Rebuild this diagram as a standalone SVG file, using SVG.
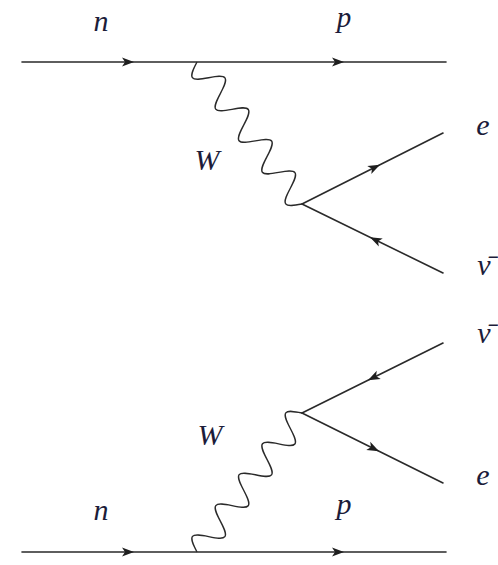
<svg xmlns="http://www.w3.org/2000/svg" xmlns:xlink="http://www.w3.org/1999/xlink" width="498" height="565" viewBox="0 0 498 565">
<style>
.f{stroke:#2a2a2a;stroke-width:1.6;fill:none;stroke-linecap:round}
.w{stroke:#2a2a2a;stroke-width:1.4;fill:none}
.ah{fill:#1e1e1e;stroke:none}
</style>
<defs>
<path id="wave" d="M0,0 C3.20,6.66 6.26,13 9.81,13 S16.42,6.66 19.62,0 S25.88,-13 29.43,-13 S36.04,-6.66 39.24,0 S45.50,13 49.05,13 S55.66,6.66 58.86,0 S65.12,-13 68.67,-13 S75.28,-6.66 78.48,0 S84.74,13 88.29,13 S94.90,6.66 98.10,0 S104.36,-13 107.91,-13 S114.52,-6.66 117.72,0 S123.98,13 127.53,13 S134.14,6.66 137.34,0 S143.60,-13 147.15,-13 S153.76,-6.66 156.96,0 S163.22,13 166.77,13 S173.38,6.66 176.58,0"/>
<path id="ah" d="M0,0 L-12,-4.5 L-9,0 L-12,4.5 Z"/>
</defs>
<g id="connectors">
<line class="f" x1="22" y1="62" x2="446" y2="62"/>
<line class="f" x1="302" y1="204" x2="443" y2="133"/>
<line class="f" x1="302" y1="204" x2="443" y2="273"/>
<use xlink:href="#wave" class="w" transform="translate(197,62) rotate(53.52)"/>
<line class="f" x1="22" y1="552" x2="446" y2="552"/>
<line class="f" x1="302" y1="413" x2="443" y2="343"/>
<line class="f" x1="302" y1="413" x2="443" y2="483"/>
<use xlink:href="#wave" class="w" transform="translate(197,552) rotate(-52.93) scale(0.9865,-1)"/>
<use xlink:href="#ah" class="ah" transform="translate(134,62)"/>
<use xlink:href="#ah" class="ah" transform="translate(344,62)"/>
<use xlink:href="#ah" class="ah" transform="translate(380,164.7) rotate(-26.7)"/>
<use xlink:href="#ah" class="ah" transform="translate(370,237.3) rotate(206.1)"/>
<use xlink:href="#ah" class="ah" transform="translate(134,552)"/>
<use xlink:href="#ah" class="ah" transform="translate(344,552)"/>
<use xlink:href="#ah" class="ah" transform="translate(368,380.2) rotate(153.6)"/>
<use xlink:href="#ah" class="ah" transform="translate(379,451.2) rotate(26.4)"/>
</g>
<g font-family="Liberation Serif, DejaVu Serif, serif" font-style="italic" font-size="30" fill="#1c1c3a" text-anchor="middle">
<g id="top-n"><text x="101" y="31">n</text></g>
<g id="top-p"><text x="344" y="27" font-size="29">p</text></g>
<g id="top-W"><text x="207" y="170">W</text></g>
<g id="top-e"><text x="483" y="135">e</text></g>
<g id="top-nubar"><text x="484" y="275">ν̄</text></g>
<g id="bot-nubar"><text x="484" y="343">ν̄</text></g>
<g id="bot-W"><text x="210" y="445">W</text></g>
<g id="bot-e"><text x="483" y="485">e</text></g>
<g id="bot-n"><text x="101" y="520">n</text></g>
<g id="bot-p"><text x="344" y="514">p</text></g>
</g>
</svg>
